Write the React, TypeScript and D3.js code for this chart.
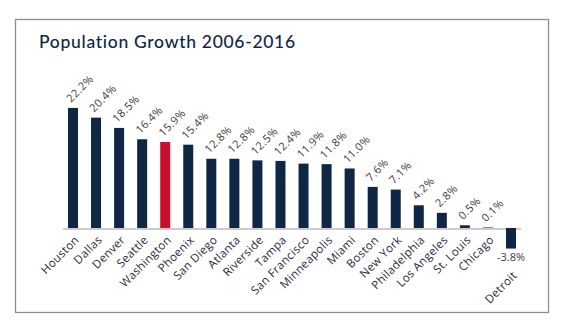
import React from "react";
import * as d3 from "d3";

const cities = ["Houston","Dallas","Denver","Seattle","Washington","Phoenix","San Diego","Atlanta","Riverside","Tampa","San Francisco","Minneapolis","Miami","Boston","New York","Philadelphia","Los Angeles","St. Louis","Chicago","Detroit"];
const growth = [22.2,20.4,18.5,16.4,15.9,15.4,12.8,12.8,12.5,12.4,11.9,11.8,11.0,7.6,7.1,4.2,2.8,0.5,0.1,-3.8];
const highlight = ["Washington"];
const title = "Population Growth 2006-2016";

const NAVY = "#0f2744";
const RED = "#c8102e";

export default function App() {
  const W = 565, H = 323;
  const x = d3.scalePoint<string>().domain(cities).range([73, 511]);
  const y = d3.scaleLinear().domain([-5, 25]).range([255.05, 92.75]);
  const bw = 10;
  const y0 = y(0);
  const fmt = (v: number) => v.toFixed(1) + "%";
  const lf = "'Open Sans', sans-serif";
  return (
    <svg width={W} height={H} style={{ position: "absolute", left: 0, top: 0 }}>
      <rect x={0} y={0} width={W} height={H} fill="#fff" />
      <rect x={15.5} y={19.5} width={533} height={293} fill="none" stroke="#8a9099" strokeWidth={1.3} />
      <text x={39} y={48} fontFamily="Lato, 'Open Sans', sans-serif" fontSize={17.5} letterSpacing={0.7} fill={NAVY} fontWeight={500}>{title}</text>
      <line x1={(x(cities[0]) as number) - 10} x2={(x(cities[cities.length - 1]) as number) + 10} y1={y0 + 1} y2={y0 + 1} stroke="#cccccc" strokeWidth={2} />
      {cities.map((c, i) => {
        const v = growth[i];
        const cx = x(c) as number;
        const top = Math.min(y(v), y0);
        const h = Math.abs(y(v) - y0);
        const neg = v < 0;
        const labelY = neg ? y(v) + 12 : y0 + 8;
        const catY = neg ? y(v) + 22 : y0 + 7;
        return (
          <g key={c}>
            <rect x={cx - bw / 2} y={top} width={bw} height={h} fill={highlight.includes(c) ? RED : NAVY} />
            {neg ? (
              <text x={cx} y={labelY} textAnchor="middle" fontFamily={lf} fontSize={11} fill="#3c3c3c">{fmt(v)}</text>
            ) : (
              <text transform={`translate(${cx - 2},${y(v) - 5}) rotate(-45)`} fontFamily={lf} fontSize={11} letterSpacing={0.4} fill="#3c3c3c">{fmt(v)}</text>
            )}
            <text transform={`translate(${cx + 1},${catY}) rotate(-45)`} textAnchor="end" dy="0.7em" fontFamily={lf} fontSize={11.5} letterSpacing={0.3} fill="#2a2a3a">{c}</text>
          </g>
        );
      })}
    </svg>
  );
}
